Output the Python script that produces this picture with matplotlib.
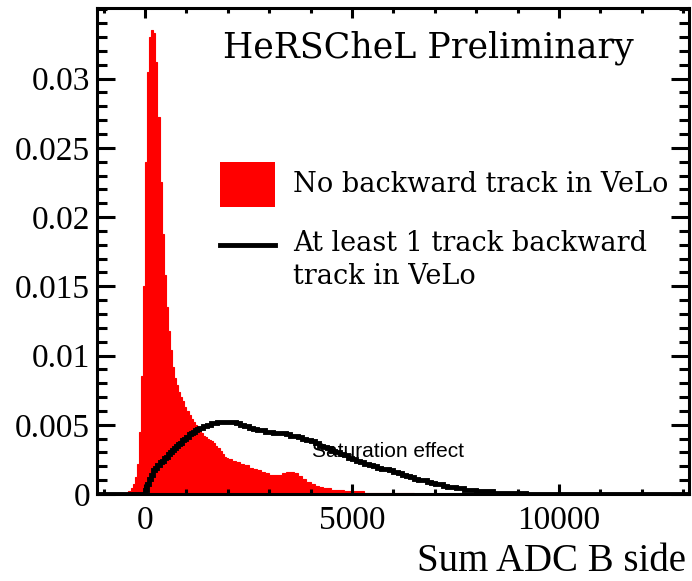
import numpy as np
import matplotlib.pyplot as plt
from matplotlib.patches import Rectangle, Polygon
from matplotlib.ticker import MultipleLocator

# bin edges: 50 ADC wide up to 2000, 100 ADC wide above, plus empty outer bins
fine_edges = list(range(-500, 2000, 50))
coarse_edges = list(range(2000, 10100, 100))
edges = np.array([-1200] + fine_edges + coarse_edges + [13200])

# no backward track (normalised), 50-wide bins from -500 to 2000
red_fine = [0.0000, 0.0001, 0.0002, 0.0004, 0.0007, 0.0012, 0.0022, 0.0045, 0.0085, 0.0150,
            0.0240, 0.0305, 0.0330, 0.0335, 0.0333, 0.0312, 0.0272, 0.0225, 0.0188, 0.0158,
            0.0135, 0.0118, 0.0104, 0.0092, 0.0084, 0.0079, 0.0074, 0.0070, 0.0067, 0.0063,
            0.0060, 0.0057, 0.0054, 0.0052, 0.0050, 0.0048, 0.0046, 0.0044, 0.0042, 0.0041,
            0.0040, 0.0039, 0.0038, 0.0037, 0.0035, 0.0033, 0.0031, 0.0029, 0.0027, 0.0026]
# 100-wide bins from 2000 to 10000
red_coarse = [0.0025, 0.0024, 0.0023, 0.0022, 0.0021, 0.0019, 0.0018, 0.0017, 0.0016, 0.0015,
              0.0014, 0.0014, 0.0014, 0.0015, 0.0016, 0.0016, 0.0015, 0.0013, 0.0011, 0.0009,
              0.0007, 0.0006, 0.0005, 0.0004, 0.0004, 0.0003, 0.0003, 0.0003, 0.0002, 0.0002,
              0.0002, 0.0002, 0.0002, 0.0001, 0.0001, 0.0001, 0.0001, 0.0001, 0.0001, 0.0001,
              0.0001, 0.0001, 0.0001, 0.0001, 0.0001, 0.0000, 0.0000, 0.0000, 0.0000, 0.0000,
              0.0000, 0.0000, 0.0000, 0.0000, 0.0000, 0.0000, 0.0000, 0.0000, 0.0000, 0.0000,
              0.0000, 0.0000, 0.0000, 0.0000, 0.0000, 0.0000, 0.0000, 0.0000, 0.0000, 0.0000,
              0.0000, 0.0000, 0.0000, 0.0000, 0.0000, 0.0000, 0.0000, 0.0000, 0.0000, 0.0000]

# at least one backward track
blk_fine = [0.0000, 0.0000, 0.0000, 0.0000, 0.0000, 0.0000, 0.0000, 0.0000, 0.0000, 0.0000,
            0.0003, 0.0007, 0.0011, 0.0014, 0.0017, 0.0019, 0.0021, 0.0023, 0.0024, 0.0026,
            0.0027, 0.0029, 0.0030, 0.0032, 0.0033, 0.0035, 0.0036, 0.0037, 0.0039, 0.0040,
            0.0041, 0.0043, 0.0044, 0.0045, 0.0046, 0.0047, 0.0048, 0.0048, 0.0049, 0.0049,
            0.0050, 0.0050, 0.0051, 0.0051, 0.0051, 0.0052, 0.0052, 0.0052, 0.0052, 0.0052]
blk_coarse = [0.0052, 0.0052, 0.0051, 0.0050, 0.0049, 0.0048, 0.0047, 0.0046, 0.0046, 0.0045,
              0.0045, 0.0044, 0.0044, 0.0044, 0.0043, 0.0042, 0.0042, 0.0041, 0.0040, 0.0039,
              0.0038, 0.0037, 0.0035, 0.0034, 0.0033, 0.0031, 0.0030, 0.0029, 0.0028, 0.0026,
              0.0025, 0.0024, 0.0023, 0.0022, 0.0021, 0.0020, 0.0019, 0.0018, 0.0018, 0.0017,
              0.0016, 0.0015, 0.0014, 0.0013, 0.0012, 0.0011, 0.0010, 0.0010, 0.0009, 0.0008,
              0.0007, 0.0007, 0.0006, 0.0005, 0.0005, 0.0004, 0.0004, 0.0003, 0.0003, 0.0003,
              0.0002, 0.0002, 0.0002, 0.0002, 0.0001, 0.0001, 0.0001, 0.0001, 0.0001, 0.0001,
              0.0001, 0.0001, 0.0000, 0.0000, 0.0000, 0.0000, 0.0000, 0.0000, 0.0000, 0.0000]

red_vals = np.array([0.0] + red_fine + red_coarse + [0.0])
blk_vals = np.array([0.0] + blk_fine + blk_coarse + [0.0])

fig = plt.figure(figsize=(6.92, 5.81), dpi=100)
ax = fig.add_axes([0.1402, 0.1497, 0.8555, 0.8365])

# filled histogram outline: step corners then back along zero
xs = np.repeat(edges, 2)[1:-1]
ys = np.repeat(red_vals, 2)
outline = np.column_stack([np.r_[edges[0], xs, edges[-1]], np.r_[0.0, ys, 0.0]])
ax.add_patch(Polygon(outline, closed=True, facecolor='#ff0000', edgecolor='#ff0000',
                     linewidth=0.8))
ax.stairs(blk_vals, edges, color='black', linewidth=3.5)

ax.set_xlim(-1160, 13140)
ax.set_ylim(0, 0.0351)

ax.xaxis.set_minor_locator(MultipleLocator(1000))
ax.yaxis.set_minor_locator(MultipleLocator(0.001))
ax.set_yticks([0, 0.005, 0.01, 0.015, 0.02, 0.025, 0.03])
ax.set_yticklabels(['0', '0.005', '0.01', '0.015', '0.02', '0.025', '0.03'])
ax.set_xticks([0, 5000, 10000])
ax.set_xticklabels(['0', '5000', '10000'])

for s in ax.spines.values():
    s.set_linewidth(2.2)
ax.tick_params(which='both', direction='in', top=True, right=True, width=2.2,
               labelsize=24, labelfontfamily='Liberation Serif')
ax.tick_params(axis='y', which='major', length=13, pad=5)
ax.tick_params(axis='y', which='minor', length=7)
ax.tick_params(axis='x', which='major', length=7, pad=8)
ax.tick_params(axis='x', which='minor', length=3.5)

ax.set_xlabel('Sum ADC B side', fontsize=28, family='Liberation Serif', loc='right')
ax.xaxis.label.set_va('baseline')
ax.xaxis.set_label_coords(0.995, -0.158)

ax.text(0.213, 0.899, 'HeRSCheL Preliminary', transform=ax.transAxes,
        fontsize=25, family='DejaVu Serif', va='baseline')

# legend
ax.add_patch(Rectangle((0.2078, 0.5905), 0.0929, 0.0926, transform=ax.transAxes,
                       facecolor='#ff0000', edgecolor='none'))
ax.plot([0.2078, 0.3007], [0.5123, 0.5123], transform=ax.transAxes, color='black', lw=3.5)
ax.text(0.331, 0.636, 'No backward track in VeLo', transform=ax.transAxes,
        fontsize=19.5, family='DejaVu Serif', va='center')
ax.text(0.331, 0.5165, 'At least 1 track backward', transform=ax.transAxes,
        fontsize=19.5, family='DejaVu Serif', va='center')
ax.text(0.331, 0.4486, 'track in VeLo', transform=ax.transAxes,
        fontsize=19.5, family='DejaVu Serif', va='center')

ax.text(4034, 0.00267, 'Saturation effect', fontsize=15, family='Liberation Sans',
        va='baseline')

fig.savefig('out.png', dpi=100)
